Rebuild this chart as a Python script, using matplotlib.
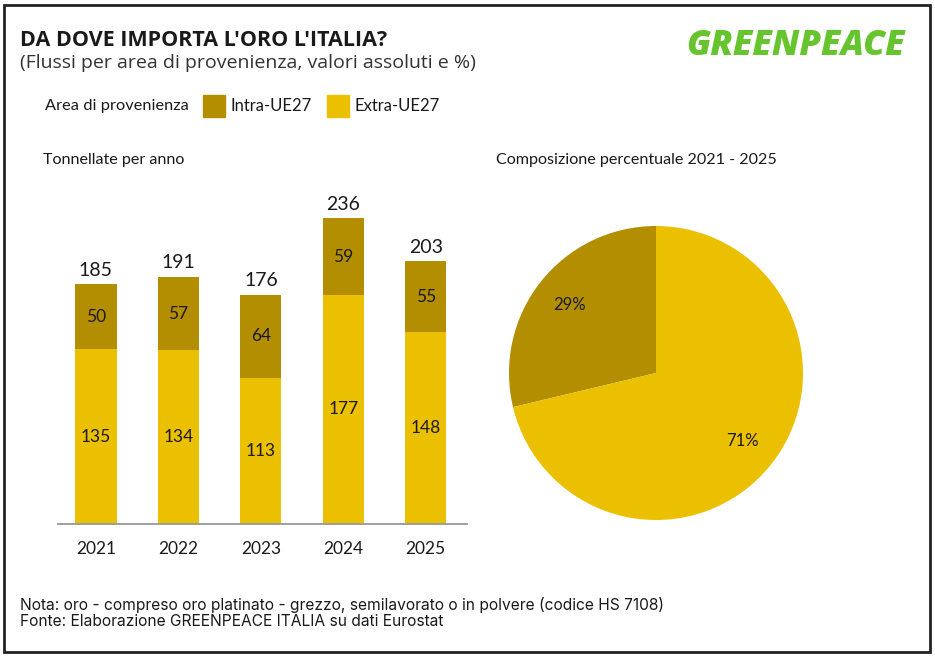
import matplotlib
matplotlib.use("Agg")
import matplotlib.pyplot as plt
from matplotlib.patches import Rectangle
import numpy as np

# dati (tonnellate)
years = ["2021", "2022", "2023", "2024", "2025"]
extra_ue = [135, 134, 113, 177, 148]
intra_ue = [50, 57, 64, 59, 55]
totals = [185, 191, 176, 236, 203]  # totali come riportati (arrotondati)

col_intra = "#B38E00"
col_extra = "#EBC000"
text_col = "#1a1a1a"

plt.rcParams["font.family"] = ["Lato", "DejaVu Sans"]

fig = plt.figure(figsize=(9.35, 6.57), dpi=100)

# cornice
fig.patches.append(Rectangle((4 / 935, 5 / 657), 926 / 935, 647 / 657, transform=fig.transFigure,
                             fill=False, edgecolor="#222222", linewidth=2))

# titoli
fig.text(20 / 935, 1 - 41 / 657, "DA DOVE IMPORTA L'ORO L'ITALIA?", fontsize=15.5, fontweight="bold",
         family=["Open Sans", "DejaVu Sans"], color=text_col, va="center")
fig.text(20 / 935, 1 - 63 / 657, "(Flussi per area di provenienza, valori assoluti e %)", fontsize=14,
         family=["Open Sans", "DejaVu Sans"], color="#333333", va="center")
fig.text(905 / 935, 1 - 46 / 657, "GREENPEACE", fontsize=25, fontweight="heavy", style="italic",
         color="#66C52F", ha="right", va="center", family=["Open Sans", "DejaVu Sans"])

# legenda
fig.text(45 / 935, 1 - 106 / 657, "Area di provenienza", fontsize=11.8, color=text_col, va="center")
fig.patches.append(Rectangle((203 / 935, 1 - 117 / 657), 22 / 935, 22 / 657, transform=fig.transFigure,
                             color=col_intra))
fig.text(231 / 935, 1 - 106 / 657, "Intra-UE27", fontsize=12, color=text_col, va="center")
fig.patches.append(Rectangle((327 / 935, 1 - 117 / 657), 22 / 935, 22 / 657, transform=fig.transFigure,
                             color=col_extra))
fig.text(355 / 935, 1 - 106 / 657, "Extra-UE27", fontsize=12, color=text_col, va="center")

fig.text(43 / 935, 1 - 160 / 657, "Tonnellate per anno", fontsize=11.6, color=text_col, va="center")
fig.text(496 / 935, 1 - 160 / 657, "Composizione percentuale 2021 - 2025", fontsize=11.6, color=text_col,
         va="center")

# barre impilate
ax = fig.add_axes([58 / 935, 1 - 524 / 657, 409 / 935, 323.7 / 657])
x = np.arange(len(years))
b1 = ax.bar(x, extra_ue, width=0.5, color=col_extra)
b2 = ax.bar(x, intra_ue, width=0.5, bottom=extra_ue, color=col_intra)
ax.bar_label(b1, label_type="center", fontsize=12.5, color=text_col)
ax.bar_label(b2, label_type="center", fontsize=12.5, color=text_col)
ax.bar_label(b2, labels=[str(t) for t in totals], padding=4, fontsize=14, color=text_col)
ax.set_xlim(-0.46, 4.5)
ax.set_ylim(0, 250)
ax.set_xticks(x)
ax.set_xticklabels(years, fontsize=12.5, color=text_col)
ax.tick_params(axis="x", length=0, pad=12)
ax.set_yticks([])
for s in ["top", "right", "left"]:
    ax.spines[s].set_visible(False)
ax.spines["bottom"].set_color("#999999")
ax.spines["bottom"].set_linewidth(1.3)
ax.patch.set_visible(False)

# torta
pax = fig.add_axes([509 / 935, 1 - 520 / 657, 294 / 935, 294 / 657])
shares = [sum(intra_ue), sum(extra_ue)]
wedges, texts, autotexts = pax.pie(shares, colors=[col_intra, col_extra], startangle=90,
                                   counterclock=True, autopct="%1.0f%%", pctdistance=0.75,
                                   textprops={"fontsize": 12, "color": text_col})
pax.set_xlim(-1, 1)
pax.set_ylim(-1, 1)
pax.set_aspect("equal")

# note
fig.text(20 / 935, 1 - 605 / 657,
         "Nota: oro - compreso oro platinato - grezzo, semilavorato o in polvere (codice HS 7108)",
         fontsize=11.2, family=["Inter", "DejaVu Sans"], color=text_col, va="center")
fig.text(20 / 935, 1 - 621 / 657, "Fonte: Elaborazione GREENPEACE ITALIA su dati Eurostat",
         fontsize=11.2, family=["Inter", "DejaVu Sans"], color=text_col, va="center")

fig.savefig("out.png", dpi=100)
